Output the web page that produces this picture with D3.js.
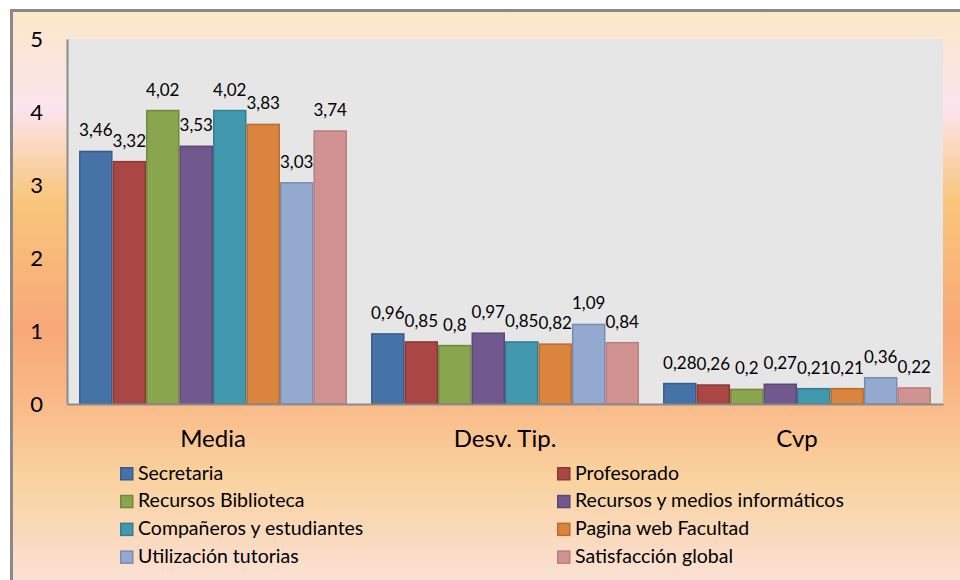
<!DOCTYPE html>
<html>
<head>
<meta charset="utf-8">
<script src="https://cdn.jsdelivr.net/npm/d3@7"></script>
<style>
  body { margin: 0; background: #fff; }
  svg { display: block; font-family: Lato, "Open Sans", sans-serif; }
</style>
</head>
<body>
<div id="chart"></div>
<script>
// data
const groups = ["Media", "Desv. Tip.", "Cvp"];
const series = [
  "Secretaria", "Profesorado", "Recursos Biblioteca", "Recursos y medios informáticos",
  "Compañeros y estudiantes", "Pagina web Facultad", "Utilización tutorias", "Satisfacción global"
];
const media = [3.46, 3.32, 4.02, 3.53, 4.02, 3.83, 3.03, 3.74];
const desvTip = [0.96, 0.85, 0.8, 0.97, 0.85, 0.82, 1.09, 0.84];
const cvp = [0.28, 0.26, 0.2, 0.27, 0.21, 0.21, 0.36, 0.22];
const yTicks = [0, 1, 2, 3, 4, 5];

const fills = ["#4572a7", "#aa4643", "#89a54e", "#71588f", "#4198af", "#db843d", "#93a9cf", "#d19392"];
const strokes = ["#385d8a", "#8c3836", "#71893f", "#5c4776", "#357d91", "#b66d31", "#7a8db0", "#b97d7c"];

const width = 960;
const height = 580;
const plot = { left: 67, right: 943, top: 39, bottom: 404 };

const values = [media, desvTip, cvp];
const rows = [];
groups.forEach((g, gi) => {
  series.forEach((s, si) => rows.push({ group: g, series: s, si: si, value: values[gi][si] }));
});

const svg = d3.select("#chart").append("svg")
  .attr("width", width)
  .attr("height", height);

// background gradient
const defs = svg.append("defs");
const grad = defs.append("linearGradient")
  .attr("id", "bg")
  .attr("gradientUnits", "userSpaceOnUse")
  .attr("x1", 0).attr("y1", 12).attr("x2", 0).attr("y2", 580);
[
  [0, "#fae8c8"], [0.06, "#fbe6d6"], [0.17, "#fce4ee"], [0.33, "#f9c67c"],
  [0.56, "#f8a878"], [0.70, "#f9bc8a"], [0.82, "#f9d29e"], [1, "#fbe0d4"]
].forEach(([o, c]) => grad.append("stop").attr("offset", o).attr("stop-color", c));

svg.append("rect")
  .attr("x", 11.5).attr("y", 10.5)
  .attr("width", 960).attr("height", 600)
  .attr("fill", "url(#bg)")
  .attr("stroke", "#898989")
  .attr("stroke-width", 3);

svg.append("rect")
  .attr("x", plot.left).attr("y", plot.top)
  .attr("width", plot.right - plot.left).attr("height", plot.bottom - plot.top)
  .attr("fill", "#e6e6e6");

const x0 = d3.scaleBand()
  .domain(groups)
  .range([plot.left, plot.right]);

const x1 = d3.scaleBand()
  .domain(series)
  .range([0, x0.bandwidth()])
  .paddingOuter(0.36);

const yScale = d3.scaleLinear()
  .domain([0, 5])
  .range([plot.bottom, plot.top]);

// bars
svg.append("g")
  .selectAll("rect")
  .data(rows)
  .join("rect")
    .attr("x", d => x0(d.group) + x1(d.series) + 0.75)
    .attr("y", d => yScale(d.value))
    .attr("width", x1.bandwidth() - 1.5)
    .attr("height", d => yScale(0) - yScale(d.value))
    .attr("fill", d => fills[d.si])
    .attr("stroke", d => strokes[d.si])
    .attr("stroke-width", 1.5);

// value labels
svg.append("g")
  .selectAll("text")
  .data(rows)
  .join("text")
    .attr("x", d => x0(d.group) + x1(d.series) + x1.bandwidth() / 2)
    .attr("y", d => yScale(d.value) - 15)
    .attr("text-anchor", "middle")
    .attr("font-size", 17)
    .attr("fill", "#000")
    .text(d => String(d.value).replace(".", ","));

// axes
const yAxis = svg.append("g")
  .attr("transform", `translate(${plot.left},0)`)
  .call(d3.axisLeft(yScale).tickValues(yTicks).tickSize(0).tickPadding(24).tickFormat(d3.format("d")));
yAxis.select(".domain").attr("stroke", "#8c8c8c").attr("stroke-width", 2);
yAxis.selectAll("text").attr("font-size", 22).attr("fill", "#000").attr("font-family", "Lato, sans-serif");

const xAxis = svg.append("g")
  .attr("transform", `translate(0,${plot.bottom})`)
  .call(d3.axisBottom(x0).tickSize(0).tickPadding(26));
xAxis.select(".domain").attr("stroke", "#8c8c8c").attr("stroke-width", 2);
xAxis.selectAll("text").attr("font-size", 24).attr("fill", "#000").attr("font-family", "Lato, sans-serif");

// legend, two columns
const legend = svg.append("g")
  .selectAll("g")
  .data(series)
  .join("g")
    .attr("transform", (d, i) => `translate(${i % 2 === 0 ? 120 : 557},${467 + Math.floor(i / 2) * 27.8})`);
legend.append("rect")
  .attr("x", 0.75).attr("y", 0.75)
  .attr("width", 12).attr("height", 12)
  .attr("fill", (d, i) => fills[i])
  .attr("stroke", (d, i) => strokes[i])
  .attr("stroke-width", 1.5);
legend.append("text")
  .attr("x", 18)
  .attr("y", 12.5)
  .attr("font-size", 19.5)
  .attr("fill", "#000")
  .text(d => d);
</script>
</body>
</html>
